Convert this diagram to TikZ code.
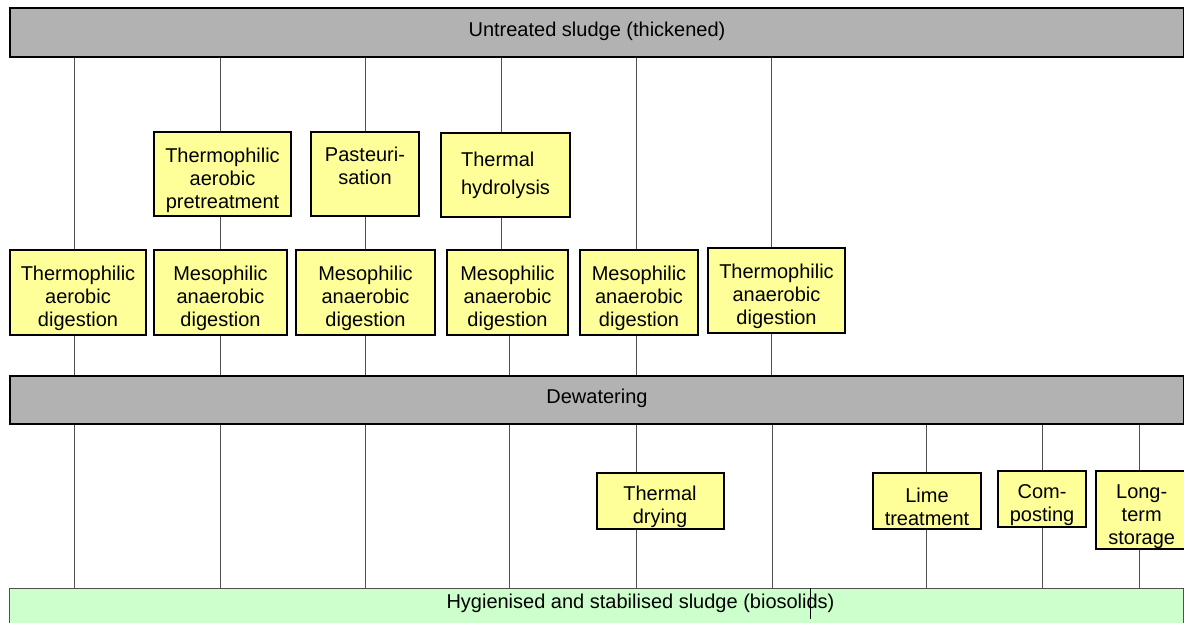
\documentclass[tikz,border=0pt]{standalone}
\usepackage{fontspec}
\setmainfont{Liberation Sans}
\definecolor{barGray}{HTML}{B2B2B2}
\definecolor{boxYellow}{HTML}{FFFF99}
\definecolor{bioGreen}{HTML}{CCFFCC}
\definecolor{lineGray}{HTML}{505050}
\newcommand\dropline{\rule{0pt}{27pt}}
\pgfdeclarelayer{bg}
\pgfsetlayers{bg,main}
\begin{document}
\begin{tikzpicture}[x=1pt,y=-1pt,
  bar/.style={draw=black, line width=2pt, fill=barGray, inner sep=0pt, anchor=north west},
  gbar/.style={draw=lineGray, line width=1pt, fill=bioGreen, inner sep=0pt, anchor=north west},
  ybox/.style={draw=black, line width=2pt, fill=boxYellow, align=center, inner sep=0pt,
    font=\fontsize{20}{23}\selectfont},
  link/.style={draw=lineGray, line width=1pt},
  lbl/.style={font=\fontsize{20}{23}\selectfont, inner sep=0pt, anchor=base}]
\useasboundingbox (0,0) rectangle (1184,622);
\clip (0,0) rectangle (1184,622);
\begin{pgfonlayer}{bg}
\fill[white] (0,0) rectangle (1184,622);
\end{pgfonlayer}
% bars
\node[bar, minimum width=1174, minimum height=49] (top) at (9,7) {};
\node[lbl] (toplbl) at (597,36.5) {Untreated sludge (thickened)};
\node[bar, minimum width=1174, minimum height=48] (dew) at (9,375) {};
\node[lbl] (dewlbl) at (597,403.5) {Dewatering};
\node[gbar, minimum width=1174, minimum height=50] (bot) at (9,588) {};
\node[lbl] (botlbl) at (640.5,608) {Hygienised and stabilised sludge (biosolids)};
% pretreatment row
\node[ybox, minimum width=137, minimum height=84] (p1) at (222.5,174) {\dropline Thermophilic\\aerobic\\pretreatment};
\node[ybox, minimum width=108, minimum height=84] (p2) at (365,174) {\dropline Pasteuri-\\sation\\\strut};
\node[ybox, minimum width=129, minimum height=84, align=left] (p3) at (505.5,175) {Thermal\\[5pt]hydrolysis};
% digestion row
\node[ybox, minimum width=136, minimum height=85] (d1) at (78,292.5) {\dropline Thermophilic\\aerobic\\digestion};
\node[ybox, minimum width=133, minimum height=85] (d2) at (220.5,292.5) {\dropline Mesophilic\\anaerobic\\digestion};
\node[ybox, minimum width=139, minimum height=85] (d3) at (365.5,292.5) {\dropline Mesophilic\\anaerobic\\digestion};
\node[ybox, minimum width=121, minimum height=85] (d4) at (507.5,292.5) {\dropline Mesophilic\\anaerobic\\digestion};
\node[ybox, minimum width=118, minimum height=85] (d5) at (639,292.5) {\dropline Mesophilic\\anaerobic\\digestion};
\node[ybox, minimum width=137, minimum height=85] (d6) at (776.5,290.5) {\dropline Thermophilic\\anaerobic\\digestion};
% post-treatment row
\node[ybox, minimum width=127, minimum height=56] (t1) at (660,501) {\dropline Thermal\\drying};
\node[ybox, minimum width=108, minimum height=56] (t2) at (927,501) {\dropline Lime\\treatment};
\node[ybox, minimum width=88, minimum height=56] (t3) at (1042,499) {\dropline Com-\\posting};
\node[ybox, minimum width=92, minimum height=78] (t4) at (1141.7,510) {\dropline Long-\\term\\storage};
% column positions
\coordinate (cA) at (74.6,0);
\coordinate (cB) at (220,0);
\coordinate (cC) at (365.5,0);
\coordinate (cD) at (501,0);
\coordinate (cD2) at (509.8,0);
\coordinate (cE) at (636,0);
\coordinate (cF) at (771,0);
\coordinate (cF2) at (772.4,0);
\coordinate (cG) at (926.3,0);
\coordinate (cH) at (1042.6,0);
\coordinate (cI) at (1139,0);
\coordinate (cur) at (810.7,0);
\coordinate (curEnd) at (810.7,619);
\begin{pgfonlayer}{bg}
% column A
\draw[link] (top.south -| cA) -- (d1.north -| cA);
\draw[link] (d1.south -| cA) -- (dew.north -| cA);
\draw[link] (dew.south -| cA) -- (bot.north -| cA);
% column B
\draw[link] (top.south -| cB) -- (p1.north -| cB);
\draw[link] (p1.south -| cB) -- (d2.north -| cB);
\draw[link] (d2.south -| cB) -- (dew.north -| cB);
\draw[link] (dew.south -| cB) -- (bot.north -| cB);
% column C
\draw[link] (top.south -| cC) -- (p2.north -| cC);
\draw[link] (p2.south -| cC) -- (d3.north -| cC);
\draw[link] (d3.south -| cC) -- (dew.north -| cC);
\draw[link] (dew.south -| cC) -- (bot.north -| cC);
% column D
\draw[link] (top.south -| cD) -- (p3.north -| cD);
\draw[link] (p3.south -| cD) -- (d4.north -| cD);
\draw[link] (d4.south -| cD2) -- (dew.north -| cD2);
\draw[link] (dew.south -| cD2) -- (bot.north -| cD2);
% column E
\draw[link] (top.south -| cE) -- (d5.north -| cE);
\draw[link] (d5.south -| cE) -- (dew.north -| cE);
\draw[link] (dew.south -| cE) -- (t1.north -| cE);
\draw[link] (t1.south -| cE) -- (bot.north -| cE);
% column F
\draw[link] (top.south -| cF) -- (d6.north -| cF);
\draw[link] (d6.south -| cF) -- (dew.north -| cF);
\draw[link] (dew.south -| cF2) -- (bot.north -| cF2);
% columns G, H, I
\draw[link] (dew.south -| cG) -- (t2.north -| cG);
\draw[link] (t2.south -| cG) -- (bot.north -| cG);
\draw[link] (dew.south -| cH) -- (t3.north -| cH);
\draw[link] (t3.south -| cH) -- (bot.north -| cH);
\draw[link] (dew.south -| cI) -- (t4.north -| cI);
\draw[link] (t4.south -| cI) -- (bot.north -| cI);
\end{pgfonlayer}
% small mark in the bottom bar
\draw[black, line width=0.8pt] (bot.north -| cur) -- (curEnd);
\end{tikzpicture}
\end{document}
